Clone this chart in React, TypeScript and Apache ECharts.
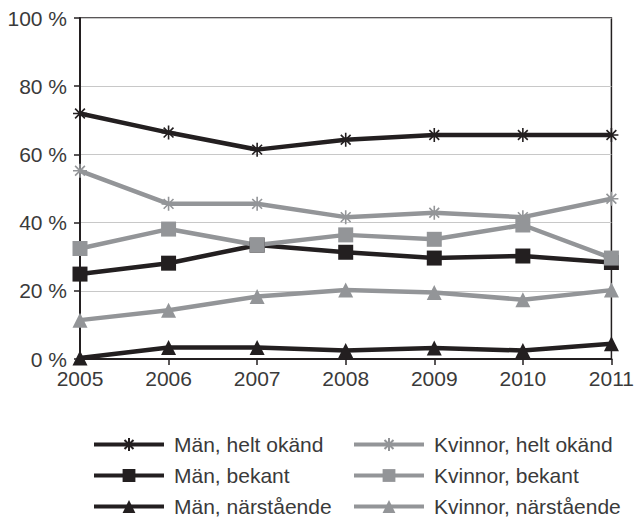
import React, { useEffect, useRef } from "react";
import * as echarts from "echarts";

const years = ["2005", "2006", "2007", "2008", "2009", "2010", "2011"];
const manHeltOkand = [72, 66.4, 61.4, 64.3, 65.7, 65.7, 65.7];
const manBekant = [24.9, 28.1, 33.4, 31.3, 29.6, 30.2, 28.3];
const manNarstaende = [0.3, 3.4, 3.4, 2.5, 3.2, 2.5, 4.5];
const kvinnorHeltOkand = [55.2, 45.5, 45.5, 41.6, 42.9, 41.6, 47];
const kvinnorBekant = [32.4, 38.1, 33.4, 36.4, 35.1, 39.3, 29.6];
const kvinnorNarstaende = [11.4, 14.3, 18.3, 20.2, 19.5, 17.4, 20.2];
const yTicks = [0, 20, 40, 60, 80, 100];

const BLACK = "#231f20";
const GRAY = "#939598";
const TEXT = "#3a3a3a";
const STAR = "path://M0,5L10,5M5,0L5,10M1.5,1.5L8.5,8.5M8.5,1.5L1.5,8.5";

function mk(name: string, data: number[], color: string, symbol: string, size: number) {
  return {
    name,
    type: "line",
    data,
    symbol,
    symbolSize: size,
    showAllSymbol: true,
    lineStyle: { color, width: 4.5 },
    itemStyle: { color, borderColor: color, borderWidth: symbol === STAR ? 1.6 : 0 },
    emphasis: { disabled: true },
  };
}

export default function App() {
  const ref = useRef<HTMLDivElement>(null);
  useEffect(() => {
    const chart = echarts.init(ref.current!, null, { renderer: "svg" });
    const font = "Liberation Sans, Arial, sans-serif";
    const legendBase = {
      orient: "vertical",
      top: 434,
      height: 88,
      padding: 0,
      itemWidth: 70,
      itemHeight: 16,
      itemGap: 10,
      selectedMode: false,
      lineStyle: { width: 4 },
      textStyle: {
        color: TEXT,
        fontSize: 21,
        fontFamily: font,
        padding: [0, 0, 0, 5],
      },
    };
    chart.setOption({
      animation: false,
      grid: {
        left: 80,
        right: 20,
        top: 18,
        bottom: 163,
        show: true,
        borderColor: BLACK,
        borderWidth: 1.5,
      },
      xAxis: {
        type: "category",
        data: years,
        boundaryGap: false,
        axisLine: { lineStyle: { color: BLACK, width: 2 } },
        axisTick: { show: true, length: 6, lineStyle: { color: BLACK, width: 1.5 } },
        axisLabel: { color: TEXT, fontSize: 21, fontFamily: font, margin: 9 },
      },
      yAxis: {
        type: "value",
        min: yTicks[0],
        max: yTicks[yTicks.length - 1],
        interval: 20,
        axisLine: { show: true, lineStyle: { color: BLACK, width: 2 } },
        axisTick: { show: true, length: 6, lineStyle: { color: BLACK, width: 1.5 } },
        splitLine: { lineStyle: { color: "#c8c8c8", width: 1.2 } },
        axisLabel: {
          color: TEXT,
          fontSize: 21,
          fontFamily: font,
          margin: 13,
          formatter: "{value} %",
        },
      },
      legend: [
        {
          ...legendBase,
          left: 92,
          data: ["Män, helt okänd", "Män, bekant", "Män, närstående"],
        },
        {
          ...legendBase,
          left: 352,
          data: ["Kvinnor, helt okänd", "Kvinnor, bekant", "Kvinnor, närstående"],
        },
      ],
      series: [
        mk("Män, helt okänd", manHeltOkand, BLACK, STAR, 14),
        mk("Män, bekant", manBekant, BLACK, "rect", 15),
        mk("Män, närstående", manNarstaende, BLACK, "triangle", 15),
        mk("Kvinnor, helt okänd", kvinnorHeltOkand, GRAY, STAR, 14),
        mk("Kvinnor, bekant", kvinnorBekant, GRAY, "rect", 15),
        mk("Kvinnor, närstående", kvinnorNarstaende, GRAY, "triangle", 15),
      ],
    });
    return () => chart.dispose();
  }, []);
  return (
    <div
      ref={ref}
      style={{ position: "fixed", left: 0, top: 0, width: 637, height: 522, background: "#fff" }}
    />
  );
}
